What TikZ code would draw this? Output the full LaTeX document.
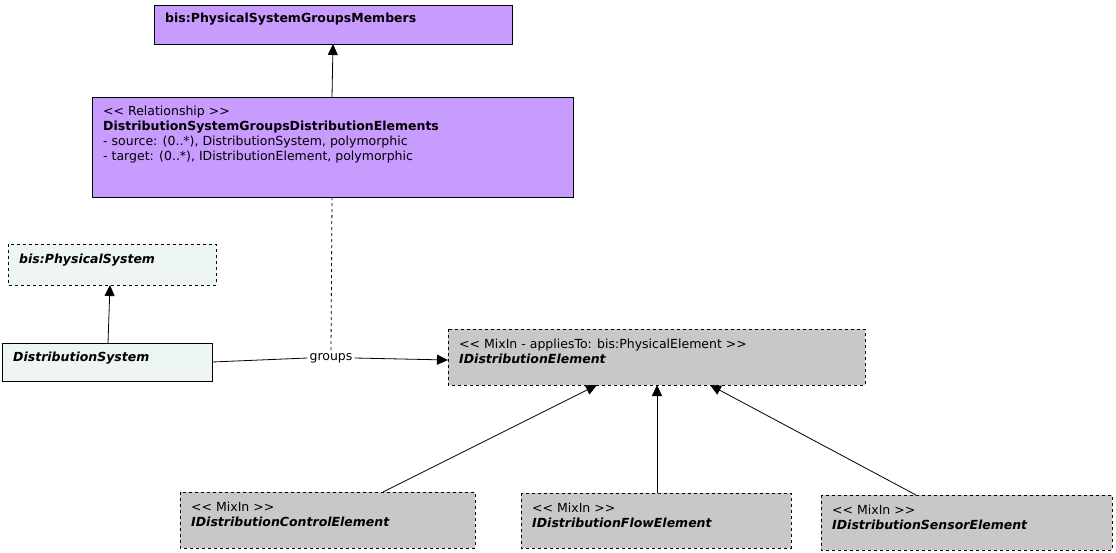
\documentclass[tikz,border=0pt]{standalone}
\usepackage{fontspec}
\setmainfont{DejaVu Sans}
\usetikzlibrary{arrows.meta}
\definecolor{purp}{HTML}{C89BFF}
\definecolor{lt}{HTML}{EEF5F5}
\definecolor{gr}{HTML}{C8C8C8}
\begin{document}
\begin{tikzpicture}[x=1pt,y=-1pt,
 box/.style={draw,line width=1pt,anchor=north west,inner sep=0pt},
 lbl/.style={font=\fontsize{12.5}{15}\selectfont,align=left,anchor=north west,inner sep=0pt},
 arr/.style={-{Triangle[length=11pt,width=10pt]},line width=0.8pt}]
\useasboundingbox (0,0) rectangle (1116,552);
\draw[line width=1pt,fill=purp] (154,5) rectangle (512,44);
\node[lbl] (top) at (165,13) {\textbf{bis:PhysicalSystemGroupsMembers}};
\draw[line width=1pt,fill=purp] (92,97) rectangle (573,197);
\node[lbl] (rel) at (103,106) {<{}< Relationship >{}>\\\textbf{DistributionSystemGroupsDistributionElements}\\- source: (0..*), DistributionSystem, polymorphic\\- target: (0..*), IDistributionElement, polymorphic};
\draw[line width=1pt,dashed,fill=lt] (8,244) rectangle (216,285);
\node[lbl] at (19,254) {\textbf{\textit{bis:PhysicalSystem}}};
\draw[line width=1pt,fill=lt] (2,343) rectangle (212,381);
\node[lbl] at (13,352) {\textbf{\textit{DistributionSystem}}};
\draw[line width=1pt,dashed,fill=gr] (448,329) rectangle (865,385);
\node[lbl] at (459,339) {<{}< MixIn - appliesTo: bis:PhysicalElement >{}>\\\textbf{\textit{IDistributionElement}}};
\draw[line width=1pt,dashed,fill=gr] (180,492) rectangle (475,548);
\node[lbl] at (191,502) {<{}< MixIn >{}>\\\textbf{\textit{IDistributionControlElement}}};
\draw[line width=1pt,dashed,fill=gr] (521,493) rectangle (791,548);
\node[lbl] at (532,503) {<{}< MixIn >{}>\\\textbf{\textit{IDistributionFlowElement}}};
\draw[line width=1pt,dashed,fill=gr] (821,495) rectangle (1112,550);
\node[lbl] at (832,505) {<{}< MixIn >{}>\\\textbf{\textit{IDistributionSensorElement}}};
\coordinate (a1) at (332,97); \coordinate (a2) at (333,44);
\draw[arr] (a1) -- (a2);
\coordinate (b1) at (108,343); \coordinate (b2) at (110,285);
\draw[arr] (b1) -- (b2);
\node[font=\fontsize{12.5}{15}\selectfont,fill=white,inner sep=2pt] (g) at (331,358) {groups};
\coordinate (c1) at (212,362); \coordinate (c2) at (448,360);
\draw[line width=0.8pt] (c1) -- (g.west);
\draw[arr] (g.east) -- (c2);
\coordinate (d1) at (332,197);
\draw[dashed,line width=0.8pt] (d1) -- (g.north);
\coordinate (e1) at (383,492); \coordinate (e2) at (597,385);
\draw[arr] (e1) -- (e2);
\coordinate (f1) at (657,493); \coordinate (f2) at (657,385);
\draw[arr] (f1) -- (f2);
\coordinate (h1) at (916,495); \coordinate (h2) at (710,385);
\draw[arr] (h1) -- (h2);
\end{tikzpicture}
\end{document}
